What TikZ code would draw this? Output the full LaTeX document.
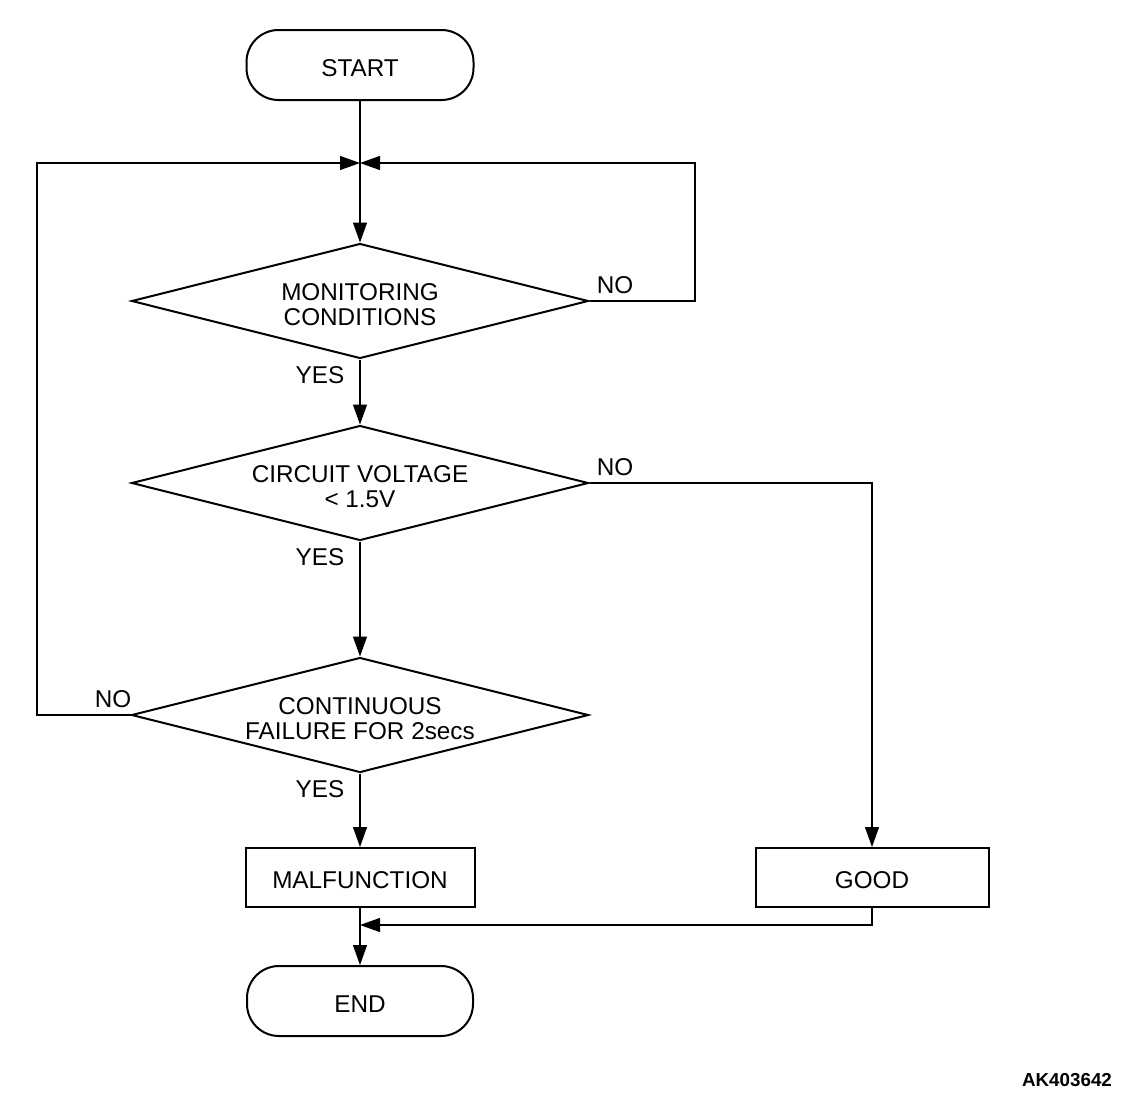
\documentclass[tikz,border=0pt]{standalone}
\usepackage{fontspec}
\setmainfont{Liberation Sans}
\usetikzlibrary{shapes.geometric,arrows.meta}
\begin{document}
\begin{tikzpicture}[x=1pt,y=-1pt,
  every node/.style={font=\fontsize{24.3}{25}\selectfont},
  term/.style={draw,line width=2pt,rounded corners=32pt,minimum width=227pt,minimum height=70pt,inner sep=0pt,text height=22pt,text depth=0pt},
  proc/.style={draw,line width=2pt,minimum height=59pt,inner sep=0pt,text height=22pt,text depth=0pt},
  decide/.style={draw,line width=2pt,diamond,shape aspect=4,inner sep=0pt,minimum width=457pt,minimum height=115pt,align=center},
  conn/.style={line width=1.3pt},
  arr/.style={conn,-{Triangle[length=20pt,width=14pt]}},
  lbl/.style={inner sep=0pt}
]
\useasboundingbox (0,0) rectangle (1136,1106);
\node[term] (start) at (360,65) {START};
\node[decide] (d1) at (360,301) {\rule{0pt}{23.5pt}MONITORING\\CONDITIONS};
\node[decide] (d2) at (360,483) {\rule{0pt}{23.5pt}CIRCUIT VOLTAGE\\\textless{} 1.5V};
\node[decide] (d3) at (360,715) {\rule{0pt}{23.5pt}CONTINUOUS\\FAILURE FOR 2secs};
\node[proc,minimum width=229pt] (malf) at (360,877.5) {MALFUNCTION};
\node[proc,minimum width=233pt] (good) at (872,877.5) {GOOD};
\node[term,minimum width=226pt] (end) at (360,1001) {END};
\coordinate (j1) at (360,163);
\coordinate (j2) at (360,925);
\coordinate (r1) at (695,301);
\coordinate (r1t) at (695,163);
\coordinate (l3) at (37,715);
\coordinate (l3t) at (37,163);
\coordinate (r2) at (872,483);
\coordinate (g2) at (872,925);

\draw[arr] (start.south) -- (d1.north);
\draw[arr] (d1.south) -- (d2.north);
\draw[arr] (d2.south) -- (d3.north);
\draw[arr] (d3.south) -- (malf.north);
\draw[arr] (malf.south) -- (end.north);
\draw[arr] (d1.east) -- (r1) -- (r1t) -- (j1);
\draw[arr] (d3.west) -- (l3) -- (l3t) -- (j1);
\draw[arr] (d2.east) -- (r2) -- (good.north);
\draw[arr] (good.south) -- (g2) -- (j2);

\node[lbl] (no1) at (615,285) {NO};
\node[lbl] (yes1) at (320,375) {YES};
\node[lbl] (no2) at (615,467) {NO};
\node[lbl] (yes2) at (320,557) {YES};
\node[lbl] (no3) at (113,699) {NO};
\node[lbl] (yes3) at (320,789) {YES};
\node[lbl,font=\fontsize{18.8}{20}\selectfont\bfseries] (code) at (1067,1080) {AK403642};
\end{tikzpicture}
\end{document}
